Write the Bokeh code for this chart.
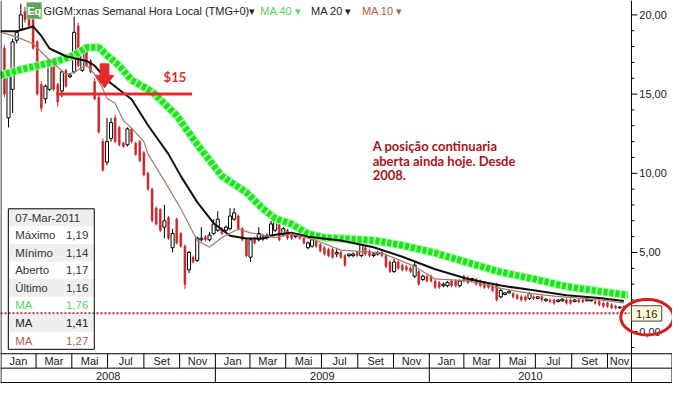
import numpy as np
import pandas as pd
from bokeh.plotting import figure
from bokeh.models import Range1d
from bokeh.core.properties import value
from bokeh.embed import file_html
from bokeh.resources import INLINE

# ------------------------------------------------------------------ data
start_date = "2008-01-07"          # first weekly bar
opens = [17.9, 13.5, 15.3, 18.4, 19.1, 20.2, 19.9, 19.7, 18.3, 15.6,
         14.7, 15.3, 16.8, 15.6, 15.2, 16.5, 16.1, 16.4, 19.3, 16.5,
         17.7, 17.1, 15.8, 14.8, 12.0, 10.7, 12.2, 13.5, 12.9, 11.9,
         11.8, 12.8, 11.9, 12.0, 11.3, 10.0, 9.0, 7.8, 7.7, 6.6,
         7.2, 5.3, 7.1, 6.2, 5.4, 3.9, 4.7, 4.5, 5.8, 6.0,
         5.8, 6.2, 6.4, 6.5, 6.4, 6.5, 7.1, 7.3, 6.5, 5.8,
         4.7, 5.9, 5.8, 6.1, 5.95, 6.1, 6.4, 6.8, 6.1, 6.4,
         6.2, 6.0, 6.3, 5.9, 5.3, 5.4, 5.7, 5.5, 5.3, 5.2,
         5.2, 4.9, 5.0, 4.8, 4.8, 4.8, 5.0, 4.8, 5.3, 5.1,
         4.8, 4.9, 5.0, 4.8, 4.4, 3.8, 4.4, 4.2, 4.1, 4.0,
         3.5, 3.8, 3.3, 3.5, 3.5, 3.2, 3.1, 2.9, 2.9, 3.2,
         3.2, 2.9, 3.5, 3.4, 3.25, 3.3, 3.2, 3.1, 3.0, 2.9,
         3.0, 2.2, 2.35, 2.45, 2.4, 2.3, 2.2, 2.2, 2.1, 2.2,
         2.1, 2.2, 1.95, 2.0, 2.0, 1.9, 1.95, 2.0, 2.0, 1.9,
         2.0, 2.0, 1.95, 1.95, 1.9, 1.9, 1.8, 1.8, 1.7, 1.6,
         1.5, 1.6]
highs = [18.1, 16.4, 18.5, 19.0, 20.7, 20.5, 20.1, 19.8, 18.4, 15.8,
         15.6, 17.0, 17.0, 15.7, 16.5, 16.6, 16.3, 19.9, 19.5, 17.7,
         17.8, 17.2, 16.0, 15.0, 12.2, 13.5, 13.5, 13.7, 13.0, 12.0,
         12.9, 12.9, 12.0, 12.1, 11.4, 10.1, 9.1, 7.9, 7.8, 8.0,
         7.3, 6.5, 7.2, 6.3, 5.5, 5.1, 4.8, 6.0, 6.6, 6.1,
         6.3, 7.1, 7.6, 6.6, 6.7, 7.8, 7.8, 7.4, 6.6, 5.9,
         5.9, 6.0, 6.6, 6.2, 6.2, 7.0, 7.2, 6.9, 6.6, 6.5,
         6.3, 6.2, 6.8, 6.0, 5.7, 5.9, 5.8, 5.6, 5.4, 5.3,
         5.3, 5.3, 5.1, 4.9, 4.9, 5.0, 5.1, 5.6, 5.4, 5.2,
         5.0, 5.1, 5.1, 4.9, 4.5, 4.6, 4.5, 4.3, 4.2, 4.1,
         4.5, 3.9, 3.6, 3.6, 3.6, 3.3, 3.2, 3.1, 3.2, 3.3,
         3.3, 3.3, 3.6, 3.5, 3.4, 3.4, 3.3, 3.2, 3.1, 3.0,
         3.1, 2.7, 2.5, 2.6, 2.5, 2.4, 2.3, 2.3, 2.5, 2.3,
         2.25, 2.3, 2.1, 2.1, 2.1, 2.05, 2.1, 2.1, 2.1, 2.05,
         2.1, 2.1, 2.1, 2.05, 2.0, 2.1, 1.9, 1.9, 1.8, 1.7,
         1.6, 1.65]
lows = [14.8, 12.9, 13.8, 18.2, 19.0, 19.5, 19.2, 17.8, 14.9, 13.9,
        14.4, 15.2, 15.2, 14.2, 14.8, 15.4, 16.0, 16.3, 16.7, 16.4,
        16.7, 16.3, 14.6, 12.5, 10.1, 10.5, 12.0, 11.9, 11.7, 11.6,
        11.7, 11.9, 11.1, 10.7, 9.8, 8.9, 6.9, 6.7, 6.3, 5.9,
        5.8, 5.0, 5.5, 5.3, 2.7, 3.7, 4.3, 4.4, 5.7, 5.7,
        5.7, 6.1, 6.3, 6.1, 6.3, 6.4, 7.0, 6.4, 5.7, 4.7,
        4.4, 5.5, 5.7, 5.7, 5.8, 6.0, 6.3, 5.7, 6.0, 5.8,
        5.8, 5.9, 5.8, 5.5, 5.2, 5.3, 5.3, 5.0, 4.8, 4.7,
        4.6, 4.7, 4.6, 4.1, 4.7, 4.7, 4.7, 4.7, 4.8, 4.7,
        4.7, 4.8, 4.7, 4.0, 3.7, 3.7, 3.9, 3.8, 3.8, 3.7,
        3.4, 2.9, 3.2, 3.1, 3.1, 2.7, 2.7, 2.8, 2.8, 2.8,
        2.8, 2.8, 3.1, 3.0, 3.2, 2.9, 2.8, 2.7, 2.7, 2.5,
        1.9, 2.1, 2.3, 2.4, 2.1, 2.0, 1.9, 1.9, 2.0, 2.0,
        2.05, 1.9, 1.9, 1.8, 1.7, 1.85, 1.9, 1.7, 1.7, 1.85,
        1.8, 1.8, 1.9, 1.9, 1.7, 1.6, 1.5, 1.5, 1.45, 1.4,
        1.45, 1.4]
closes = [15.0, 16.2, 18.3, 18.9, 20.0, 19.7, 19.3, 17.9, 15.0, 14.1,
          15.5, 16.8, 15.3, 14.5, 16.4, 15.5, 16.2, 18.9, 16.8, 17.6,
          16.8, 16.4, 14.7, 12.6, 10.2, 12.0, 13.2, 12.0, 11.8, 11.7,
          12.8, 12.0, 11.2, 10.8, 9.9, 9.0, 7.0, 6.8, 6.4, 7.0,
          5.9, 6.2, 5.6, 5.4, 3.0, 5.0, 4.4, 5.9, 5.9, 5.8,
          6.1, 6.8, 7.1, 6.2, 6.6, 7.3, 7.5, 6.5, 5.8, 4.8,
          5.8, 5.6, 6.2, 5.8, 6.05, 6.8, 7.1, 5.8, 6.5, 5.9,
          5.9, 6.1, 5.9, 5.6, 5.6, 5.8, 5.4, 5.1, 4.9, 4.8,
          4.7, 5.0, 4.7, 4.2, 4.9, 4.9, 4.8, 5.5, 4.9, 4.8,
          4.9, 5.0, 4.8, 4.1, 3.8, 4.4, 4.0, 3.9, 3.9, 3.8,
          4.2, 3.0, 3.5, 3.2, 3.2, 2.8, 2.8, 3.0, 3.1, 2.9,
          2.9, 3.2, 3.2, 3.1, 3.35, 3.0, 2.9, 2.8, 2.8, 2.6,
          2.0, 2.6, 2.45, 2.55, 2.2, 2.1, 2.0, 2.0, 2.4, 2.1,
          2.2, 2.0, 2.05, 1.9, 1.8, 2.0, 2.05, 1.8, 1.8, 2.0,
          1.9, 1.9, 2.05, 2.0, 1.8, 1.7, 1.6, 1.6, 1.5, 1.5,
          1.55, 1.45]

# moving averages (week index, value)
ma40_week = [-1, 4, 9, 13, 17, 20, 23, 25, 28, 31, 36, 42, 47, 53, 59, 63, 66,
             70, 74, 78, 82, 90, 97, 105, 113, 121, 129, 137, 145, 152]
ma40_val = [16.18, 16.55, 16.85, 17.09, 17.45, 17.94, 17.94, 17.45, 16.79, 15.88,
            15.15, 13.64, 11.82, 9.82, 8.79, 7.76, 7.15, 6.79, 6.18, 5.94,
            5.88, 5.76, 5.45, 4.97, 4.36, 3.76, 3.33, 2.85, 2.55, 2.30]
ma20_week = [-1, 3, 7, 9, 11, 15, 20, 22, 25, 28, 31, 35, 40, 43, 47, 51, 55, 59,
             63, 66, 70, 74, 82, 90, 97, 105, 113, 121, 129, 137, 145, 151]
ma20_val = [18.97, 18.97, 19.27, 18.67, 17.88, 17.39, 17.09, 16.79, 15.88, 15.27,
            14.67, 13.03, 11.21, 9.82, 8.18, 6.85, 6.06, 5.88, 5.88, 6.12,
            6.24, 6.00, 5.76, 5.33, 4.73, 3.94, 3.33, 2.91, 2.61, 2.30, 2.12, 1.94]
ma10_week = [-1, 3, 7, 11, 15, 17, 20, 22, 24, 25, 27, 29, 31, 34, 35, 39, 43, 47,
             50, 53, 57, 60, 66, 70, 76, 82, 92, 100, 105, 113, 121, 128, 134, 145, 151]
ma10_val = [18.91, 18.61, 18.18, 17.15, 16.24, 16.36, 16.85, 16.24, 15.33, 14.73,
            14.42, 13.33, 12.85, 12.00, 11.21, 9.52, 7.76, 5.76, 5.33, 5.94,
            6.48, 6.24, 5.94, 6.18, 5.76, 5.15, 4.97, 4.12, 3.33, 3.21,
            2.73, 2.42, 2.24, 2.00, 1.82]

info_labels = ["07-Mar-2011", "Máximo", "Mínimo", "Aberto", "Último", "MA", "MA", "MA"]
info_values = ["", "1,19", "1,14", "1,17", "1,16", "1,76", "1,41", "1,27"]
last_price = 1.16
last_label = "1,16"
target_price = 15
target_label = "$15"
y_ticks = [0, 5, 10, 15, 20]
y_tick_labels = ["0,00", "5,00", "10,00", "15,00", "20,00"]
y_minor = [-1] + [v for v in range(1, 20) if v % 5 != 0]
month_names = ["Jan", "Mar", "Mai", "Jul", "Set", "Nov"]
years = [2008, 2009, 2010]
title = "GIGM:xnas Semanal Hora Local (TMG+0)\u25be"
legend_items = ["MA 40 \u25be", "MA 20 \u25be", "MA 10 \u25be"]
note_lines = ["A posição continuaria", "aberta ainda hoje. Desde", "2008."]

# ------------------------------------------------------------------ geometry
W, H = 672, 383            # figure size (reference layout is 688 x 399)
WEEK_MS = 7 * 86400000.0
t0 = pd.Timestamp(start_date).value / 1e6
PX_W = 4.2                 # reference pixels per week
PX_U = 16.5                # reference pixels per price unit
Y0_PX = 345.0              # reference pixel row of price 0


def px2x(rx):
    return t0 + (rx - 4.0) / PX_W * WEEK_MS


def px2y(ry):
    return (Y0_PX - ry) / PX_U


def wk2x(w):
    return t0 + np.asarray(w, dtype=float) * WEEK_MS


def date2x(ts):
    return pd.Timestamp(ts).value / 1e6


p = figure(width=W, height=H, output_backend="svg", toolbar_location=None,
           x_range=Range1d(px2x(0), px2x(688)), y_range=Range1d(px2y(399), px2y(0)),
           x_axis_location=None, y_axis_location=None, min_border=0,
           background_fill_color="white", border_fill_color="white")
p.grid.visible = False
p.outline_line_color = None

FONT = value("Liberation Sans")

# ------------------------------------------------------------------ candles
o = np.array(opens); h = np.array(highs); l = np.array(lows); c = np.array(closes)
xs = wk2x(np.arange(len(o)))
up = c >= o
dn = ~up
RED = "#c8262b"
p.segment(xs[up], l[up], xs[up], h[up], line_color="black", line_width=1)
p.segment(xs[dn], l[dn], xs[dn], h[dn], line_color=RED, line_width=1)
p.vbar(x=xs[up], top=np.maximum(o, c)[up], bottom=np.minimum(o, c)[up],
       width=0.75 * WEEK_MS, fill_color="white", line_color="black", line_width=1)
p.vbar(x=xs[dn], top=o[dn], bottom=c[dn], width=0.45 * WEEK_MS,
       fill_color=RED, line_color=RED, line_width=0.6)

# ------------------------------------------------------------------ moving averages
p.line(wk2x(ma40_week), ma40_val, line_color="#a8f5a8", line_width=8.5)
p.line(wk2x(ma40_week), ma40_val, line_color="#19e619", line_width=6.5,
       line_dash="4 2")
p.line(wk2x(ma20_week), ma20_val, line_color="#111111", line_width=2)
p.line(wk2x(ma10_week), ma10_val, line_color="#a47a6c", line_width=1.2)

# ------------------------------------------------------------------ $15 line & arrow
p.segment(px2x(57), target_price, px2x(196), target_price,
          line_color="#e42b2b", line_width=3)
p.text(x=[px2x(167)], y=[px2y(80)], text=[target_label], text_color="#e42b2b",
       text_font=value("Lato"), text_font_style="bold", text_font_size="13px",
       text_baseline="middle", text_align="left")
arrow_px = [(102, 66), (111, 66), (111, 78), (116, 78), (106.5, 91), (97, 78), (102, 78)]
p.patch([px2x(a) for a, b in arrow_px], [px2y(b) for a, b in arrow_px],
        fill_color="#e42b2b", line_color="#e42b2b")

# ------------------------------------------------------------------ note
for k, line in enumerate(note_lines):
    p.text(x=[px2x(381)], y=[px2y(152 + 15 * k)], text=[line], text_color="#a8141c",
           text_font=value("Lato"), text_font_style="bold", text_font_size="13px",
           text_baseline="middle", text_align="left")

# ------------------------------------------------------------------ last price line
p.segment(px2x(0), last_price, px2x(644), last_price, line_color="#c0282c",
          line_width=2, line_dash="2 2")

# ------------------------------------------------------------------ price axis (right)
ax_x = px2x(646)
p.segment(ax_x, px2y(0), ax_x, px2y(398), line_color="black", line_width=1)
p.segment([ax_x] * len(y_ticks), y_ticks, [px2x(652)] * len(y_ticks), y_ticks,
          line_color="black", line_width=1)
p.segment([ax_x] * len(y_minor), y_minor, [px2x(649)] * len(y_minor), y_minor,
          line_color="black", line_width=1)
p.text(x=[px2x(654)] * len(y_ticks), y=y_ticks, text=y_tick_labels, text_color="#222222",
       text_font=FONT, text_font_size="11px", text_baseline="middle", text_align="left")

# last price tag + ellipse
p.quad(left=px2x(646), right=px2x(677), top=px2y(318), bottom=px2y(334),
       fill_color="#fdf5d8", line_color="#444444", line_width=1)
p.text(x=[px2x(661.5)], y=[px2y(326.5)], text=[last_label], text_color="#222222",
       text_font=FONT, text_font_size="11px", text_baseline="middle", text_align="center")
p.ellipse(x=[px2x(662)], y=[px2y(330)], width=54 / PX_W * WEEK_MS, height=37 / PX_U,
          fill_color=None, line_color="#d41e1e", line_width=3)

# ------------------------------------------------------------------ time axis (bottom)
right_edge = px2x(646)
starts = [date2x(f"{yr}-{m:02d}-01") for yr in years for m in (1, 3, 5, 7, 9, 11)]
ends = starts[1:] + [right_edge]
labels = month_names * len(years)
row1_top, row1_bot, row2_bot = px2y(368), px2y(383), px2y(398)
for yv in (row1_top, row1_bot, row2_bot):
    p.segment(px2x(0), yv, px2x(688), yv, line_color="black", line_width=1)
p.segment(starts[1:], [row1_top] * (len(starts) - 1), starts[1:], [row1_bot] * (len(starts) - 1),
          line_color="black", line_width=1)
year_starts = [date2x(f"{yr}-01-01") for yr in years]
year_ends = year_starts[1:] + [right_edge]
p.segment(year_starts[1:], [row1_bot] * (len(years) - 1), year_starts[1:], [row2_bot] * (len(years) - 1),
          line_color="black", line_width=1)
p.segment(px2x(0.5), px2y(0), px2x(0.5), row2_bot, line_color="black", line_width=1)
p.segment(px2x(687.5), row1_top, px2x(687.5), row2_bot, line_color="black", line_width=1)
p.text(x=[(a + b) / 2 for a, b in zip(starts, ends)], y=[px2y(376)] * len(starts), text=labels,
       text_color="#222222", text_font=FONT, text_font_size="11px",
       text_baseline="middle", text_align="center")
p.text(x=[(a + b) / 2 for a, b in zip(year_starts, year_ends)], y=[px2y(391)] * len(years),
       text=[str(y) for y in years], text_color="#222222", text_font=FONT,
       text_font_size="11px", text_baseline="middle", text_align="center")

# ------------------------------------------------------------------ header
p.quad(left=px2x(27), right=px2x(42), top=px2y(2), bottom=px2y(19),
       fill_color="#5fa35f", line_color="#8fc78f", line_width=1)
p.text(x=[px2x(34.5)], y=[px2y(11)], text=["Eq"], text_color="white", text_font=FONT,
       text_font_style="bold", text_font_size="11px", text_baseline="middle", text_align="center")
p.text(x=[px2x(44)], y=[px2y(11)], text=[title], text_color="#222222", text_font=FONT,
       text_font_size="11px", text_baseline="middle", text_align="left")
p.text(x=[px2x(266), px2x(318), px2x(370)], y=[px2y(11)] * 3, text=legend_items,
       text_color=["#55d655", "#222222", "#b06048"], text_font=FONT,
       text_font_size="11px", text_baseline="middle", text_align="left")

# ------------------------------------------------------------------ info box
ROW = 18.3
BOX_TOP = 217.0
for k in range(len(info_labels)):
    if k % 2 == 0:
        p.quad(left=px2x(8), right=px2x(96), top=px2y(BOX_TOP + ROW * k),
               bottom=px2y(BOX_TOP + ROW * (k + 1)), fill_color="#efefef", line_color=None)
p.quad(left=px2x(8), right=px2x(96), top=px2y(BOX_TOP), bottom=px2y(BOX_TOP + ROW * 8),
       fill_color=None, line_color="black", line_width=1)
info_colors = ["#333333"] * 5 + ["#5ed35e", "#222222", "#b06048"]
ys = [px2y(BOX_TOP + ROW * (k + 0.5)) for k in range(len(info_labels))]
p.text(x=[px2x(15)] * len(info_labels), y=ys, text=info_labels, text_color=info_colors,
       text_font=FONT, text_font_size="11.5px", text_baseline="middle", text_align="left")
p.text(x=[px2x(67)] * len(info_values), y=ys, text=info_values, text_color=info_colors,
       text_font=FONT, text_font_size="11.5px", text_baseline="middle", text_align="left")

open("out.html", "w").write(file_html(p, INLINE))
